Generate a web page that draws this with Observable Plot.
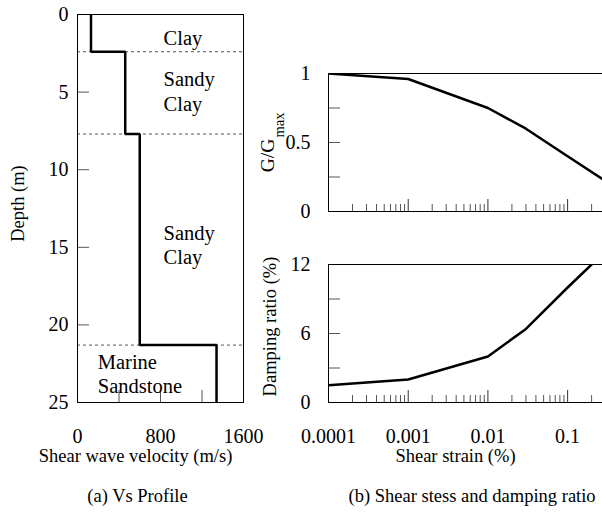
<!DOCTYPE html>
<html><head><meta charset="utf-8">
<script src="https://cdn.jsdelivr.net/npm/d3@7"></script>
<script src="https://cdn.jsdelivr.net/npm/@observablehq/plot@0.6"></script>
<style>
html,body{margin:0;padding:0;background:#fff;overflow:hidden;}
#wrap{position:relative;width:602px;height:527px;overflow:hidden;background:#fff;}
#wrap svg{position:absolute;}
</style></head><body><div id="wrap"></div>
<script>
// ---- Data: (a) Vs profile ----
const layerTop = [0, 2.4, 7.7, 21.3];
const layerBottom = [2.4, 7.7, 21.3, 25];
const layerVs = [130, 460, 600, 1340];
const layerNames = ["Clay", "Sandy\nClay", "Sandy\nClay", "Marine\nSandstone"];
const layerLabelDepth = [1.45, 4.9, 14.8, 23.1];
const layerLabelVs = [830, 830, 830, 195];
const depthTicks = [0, 5, 10, 15, 20, 25];
const vsTicks = [0, 400, 800, 1200, 1600];
const vsTickLabels = [0, 800, 1600];

// ---- Data: (b) modulus reduction and damping ----
const strainG = [0.0001, 0.001, 0.01, 0.03, 0.1, 0.3];
const gRatio = [1.0, 0.96, 0.75, 0.6, 0.4, 0.22];
const strainD = [0.0001, 0.001, 0.01, 0.03, 0.1, 0.2];
const damping = [1.5, 2.0, 4.0, 6.4, 10.0, 12.0];
const strainDomain = [0.0001, 0.274];
const strainMajor = [0.0001, 0.001, 0.01, 0.1];
const gTicks = [0, 0.25, 0.5, 0.75, 1];
const gTickLabels = [0, 0.5, 1];
const dTicks = [0, 3, 6, 9, 12];
const dTickLabels = [0, 6, 12];

const FONT = "Liberation Serif";
const baseStyle = {fontSize: "20px", color: "black", background: "transparent", overflow: "visible"};
const wrap = document.getElementById("wrap");
const fmt = d => String(d);

function place(svg, left, top) {
  svg.style.left = left + "px";
  svg.style.top = top + "px";
  svg.style.fontFamily = FONT;
  svg.setAttribute("font-family", FONT);
  svg.querySelectorAll("g, text, tspan").forEach(el => {
    el.setAttribute("font-family", FONT);
    el.style.fontFamily = FONT;
  });
  wrap.appendChild(svg);
}

// ---------- (a) Vs profile ----------
const profile = [];
layerVs.forEach((v, i) => {
  profile.push({vs: v, depth: layerTop[i]});
  profile.push({vs: v, depth: layerBottom[i]});
});
const boundaries = layerTop.slice(1);
const layerLabels = layerNames.map((n, i) => ({name: n, vs: layerLabelVs[i], depth: layerLabelDepth[i]}));

const LW = 260, LH = 527, LML = 77, LMR = 17, LMT = 14, LMB = 125;
const lfw = LW - LML - LMR, lfh = LH - LMT - LMB;

const leftPlot = Plot.plot({
  width: LW, height: LH, marginLeft: LML, marginRight: LMR, marginTop: LMT, marginBottom: LMB,
  style: baseStyle,
  x: {domain: [0, 1600], axis: null},
  y: {domain: [0, 25], reverse: true, axis: null},
  marks: [
    Plot.ruleY(boundaries, {y: d => d, stroke: "#555", strokeDasharray: "3,3", strokeWidth: 1}),
    Plot.tickY(depthTicks, {y: d => d, insetRight: lfw - 12, stroke: "#555"}),
    Plot.tickX(vsTicks, {x: d => d, insetTop: lfh - 12, stroke: "#555"}),
    Plot.frame({stroke: "black", strokeWidth: 1}),
    Plot.line(profile, {x: "vs", y: "depth", stroke: "black", strokeWidth: 2.5, strokeLinejoin: "miter", strokeLinecap: "butt"}),
    Plot.axisY(depthTicks, {anchor: "left", tickSize: 0, tickPadding: 9, fontSize: 20, label: null, tickFormat: fmt}),
    Plot.axisX(vsTickLabels, {anchor: "bottom", tickSize: 0, tickPadding: 26, fontSize: 20, label: null, tickFormat: fmt}),
    Plot.text(layerLabels, {x: "vs", y: "depth", text: "name", textAnchor: "start", fontSize: 20.5, lineHeight: 1.2, fill: "black"}),
    Plot.text(["Depth (m)"], {text: d => d, frameAnchor: "left", textAnchor: "middle", rotate: -90, dx: -59, dy: -5, fontSize: 18.5, fill: "black"}),
    Plot.text(["Shear wave velocity (m/s)"], {text: d => d, frameAnchor: "bottom", dx: -25, dy: 59, fontSize: 18.5, fill: "black"}),
    Plot.text(["(a) Vs Profile"], {text: d => d, frameAnchor: "bottom", dx: -23, dy: 99, fontSize: 18.5, fill: "black"})
  ]
});
place(leftPlot, 0, 0);

// ---------- (b) top: G/Gmax ----------
const minorTicks = d3.scaleLog().domain(strainDomain).ticks().filter(t => !strainMajor.some(m => Math.abs(m - t) / m < 1e-6));
const gData = strainG.map((s, i) => ({s, g: gRatio[i]}));
const dData = strainD.map((s, i) => ({s, d: damping[i]}));

const RW = 352, RML = 78;
const rfw = RW - RML;
const TH = 230, TMT = 73, TMB = 19;
const tfh = TH - TMT - TMB;

const topPlot = Plot.plot({
  width: RW, height: TH, marginLeft: RML, marginRight: 0, marginTop: TMT, marginBottom: TMB,
  style: baseStyle,
  x: {type: "log", domain: strainDomain, axis: null},
  y: {domain: [0, 1], axis: null},
  marks: [
    Plot.tickY(gTicks, {y: d => d, insetRight: rfw - 12, stroke: "#555"}),
    Plot.tickX(minorTicks, {x: d => d, insetTop: tfh - 7, stroke: "#555"}),
    Plot.tickX(strainMajor, {x: d => d, insetTop: tfh - 12, stroke: "#333"}),
    Plot.ruleY([0, 1], {y: d => d, stroke: "black"}),
    Plot.ruleX([strainDomain[0]], {x: d => d, stroke: "black"}),
    Plot.line(gData, {x: "s", y: "g", stroke: "black", strokeWidth: 2.5, clip: true}),
    Plot.axisY(gTickLabels, {anchor: "left", tickSize: 0, tickPadding: 18, fontSize: 20, label: null, tickFormat: fmt}),
    Plot.text(["G/G"], {text: d => d, frameAnchor: "left", textAnchor: "middle", rotate: -90, dx: -60.5, dy: 13, fontSize: 19.5, fill: "black"}),
    Plot.text(["max"], {text: d => d, frameAnchor: "left", textAnchor: "middle", rotate: -90, dx: -49.5, dy: -17.5, fontSize: 14.5, fill: "black"})
  ]
});
place(topPlot, 250, 0);

// ---------- (b) bottom: damping ----------
const BH = 297, BMT = 34, BMB = 125;
const bfh = BH - BMT - BMB;

const botPlot = Plot.plot({
  width: RW, height: BH, marginLeft: RML, marginRight: 0, marginTop: BMT, marginBottom: BMB,
  style: baseStyle,
  x: {type: "log", domain: strainDomain, axis: null},
  y: {domain: [0, 12], axis: null},
  marks: [
    Plot.tickY(dTicks, {y: d => d, insetRight: rfw - 12, stroke: "#555"}),
    Plot.tickX(minorTicks, {x: d => d, insetTop: bfh - 7, stroke: "#555"}),
    Plot.tickX(strainMajor, {x: d => d, insetTop: bfh - 12, stroke: "#333"}),
    Plot.ruleY([0, 12], {y: d => d, stroke: "black"}),
    Plot.ruleX([strainDomain[0]], {x: d => d, stroke: "black"}),
    Plot.line(dData, {x: "s", y: "d", stroke: "black", strokeWidth: 2.5, clip: true}),
    Plot.axisY(dTickLabels, {anchor: "left", tickSize: 0, tickPadding: 18, fontSize: 20, label: null, tickFormat: fmt}),
    Plot.axisX(strainMajor, {anchor: "bottom", tickSize: 0, tickPadding: 26, fontSize: 20, label: null, tickFormat: fmt}),
    Plot.text(["Damping ratio (%)"], {text: d => d, frameAnchor: "left", textAnchor: "middle", rotate: -90, dx: -58, dy: -7, fontSize: 18.5, fill: "black"}),
    Plot.text(["Shear strain (%)"], {text: d => d, frameAnchor: "bottom", dx: -10, dy: 59, fontSize: 18.5, fill: "black"}),
    Plot.text(["(b) Shear stess and damping ratio"], {text: d => d, frameAnchor: "bottom-left", textAnchor: "start", dx: 20, dy: 99, fontSize: 18.5, fill: "black"})
  ]
});
place(botPlot, 250, 230);
</script>
</body></html>
